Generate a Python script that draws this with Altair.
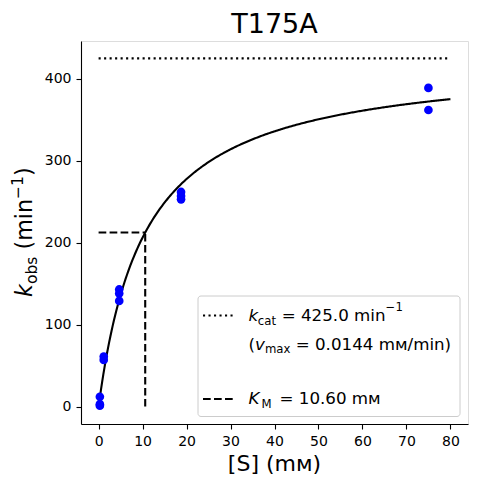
import altair as alt
import numpy as np
import pandas as pd

# ---------------- data ----------------
chart_title = "T175A"
S_obs = [0.29, 0.29, 0.29, 1.17, 1.17, 4.69, 4.69, 4.69, 18.75, 18.75, 18.75, 75.0, 75.0]
k_obs = [1, 3, 12, 57, 61, 129, 138, 143, 253, 257, 262, 362, 389]
kcat = 425.0
KM = 10.60
S_end = 80
x_ticks = [0, 10, 20, 30, 40, 50, 60, 70, 80]
y_ticks = [0, 100, 200, 300, 400]

# fitted Michaelis-Menten curve from the reported parameters
S_fit = np.linspace(0, S_end, 300)
k_fit = kcat * S_fit / (KM + S_fit)

pts = pd.DataFrame({"S": S_obs, "k": k_obs})
fit = pd.DataFrame({"S": S_fit, "k": k_fit})
kcat_line = pd.DataFrame({"S": [0, S_end], "k": [kcat, kcat]})
km_h = pd.DataFrame({"S": [0, KM], "k": [kcat / 2, kcat / 2]})
km_v = pd.DataFrame({"S": [KM, KM], "k": [0, kcat / 2]})
dummy = pd.DataFrame({"d": [0]})

# ---------------- layout ----------------
W, H = 387, 383
OX, OY = 81, 41  # plot origin in page pixels
FONT = "DejaVu Sans"

xs = alt.Scale(domain=[-4, 84], nice=False, zero=False)
ys = alt.Scale(domain=[-21.25, 446.25], nice=False, zero=False)

axis_common = dict(
    grid=False, title=None, labelFont=FONT, labelFontSize=14, labelColor="black",
    tickColor="black", tickSize=5, tickWidth=1.1, domainColor="black", domainWidth=1.1,
)
xenc = alt.X("S:Q", scale=xs, axis=alt.Axis(values=x_ticks, labelPadding=5, **axis_common))
yenc = alt.Y("k:Q", scale=ys, axis=alt.Axis(values=y_ticks, labelPadding=5, **axis_common))


def P(x, y):
    return dict(x=alt.value(x - OX), y=alt.value(y - OY))


def txt(s, x, y, size, italic=False, angle=0, align="left"):
    kw = dict(text=s, font=FONT, fontSize=size, align=align,
              baseline="alphabetic", color="black")
    if italic:
        kw["fontStyle"] = "italic"
    if angle:
        kw["angle"] = angle
    return alt.Chart(dummy).mark_text(**kw).encode(**P(x, y))


curve = alt.Chart(fit).mark_line(color="black", strokeWidth=2.1).encode(x=xenc, y=yenc)
kc = alt.Chart(kcat_line).mark_line(color="black", strokeWidth=2.1, strokeDash=[2.1, 3.4]).encode(x=xenc, y=yenc)
kh = alt.Chart(km_h).mark_line(color="black", strokeWidth=2.1, strokeDash=[7.7, 3.3]).encode(x=xenc, y=yenc)
kv = alt.Chart(km_v).mark_line(color="black", strokeWidth=2.1, strokeDash=[7.7, 3.3]).encode(x=xenc, y=yenc)
dots = alt.Chart(pts).mark_circle(size=75, color="#0000ff", opacity=1).encode(x=xenc, y=yenc)

# legend box
box = alt.Chart(dummy).mark_rect(
    fill="white", fillOpacity=0.8, stroke="#cccccc", strokeWidth=1, cornerRadius=3
).encode(x=alt.value(198 - OX), x2=alt.value(460 - OX), y=alt.value(296 - OY), y2=alt.value(416.5 - OY))
h1 = alt.Chart(dummy).mark_rule(color="black", strokeWidth=2.1, strokeDash=[2.1, 3.4]).encode(
    x=alt.value(203 - OX), x2=alt.value(236 - OX), y=alt.value(315.5 - OY))
h2 = alt.Chart(dummy).mark_rule(color="black", strokeWidth=2.1, strokeDash=[7.7, 3.3]).encode(
    x=alt.value(203 - OX), x2=alt.value(236 - OX), y=alt.value(399 - OY))

FS = 16.7
SS = 11.7
legend_txt = [
    txt("k", 248.5, 321, FS, italic=True),
    txt("cat", 257.8, 324.5, SS),
    txt("= 425.0 min", 281.7, 321, FS),
    txt("\u22121", 385.6, 310.5, SS),
    txt("(", 248.5, 349.5, FS),
    txt("v", 255.0, 349.5, FS, italic=True),
    txt("max", 264.9, 353.0, SS),
    txt("= 0.0144 m\u1d0d/min)", 295.7, 349.5, FS),
    txt("K", 248.5, 404, FS, italic=True),
    txt("M", 261.5, 407.5, SS),
    txt("= 10.60 m\u1d0d", 279.5, 404, FS),
]

# title and axis titles
title_t = txt(chart_title, 274.5, 33.2, 27, align="center")
xtitle = txt("[S] (m\u1d0d)", 274.5, 470.7, 22, align="center")
Y0 = 297.0
BX = 32.0
ytitle = [
    txt("k", BX, Y0, 22.2, italic=True, angle=270),
    txt("obs", BX + 5, Y0 - 12.9, 15.5, angle=270),
    txt("(min", BX, Y0 - 47.5, 22.2, angle=270),
    txt("\u22121", BX - 9.5, Y0 - 98.0, 15.5, angle=270),
    txt(")", BX, Y0 - 120.9, 22.2, angle=270),
]

chart = alt.layer(
    curve, kc, kh, kv, dots, box, h1, h2, *legend_txt, title_t, xtitle, *ytitle
).properties(
    width=W, height=H,
    autosize=alt.AutoSizeParams(type="none"),
    padding={"left": OX - 8, "top": OY - 8, "right": 1, "bottom": 52},
).configure_view(stroke="black", strokeWidth=1.1).configure(background="white")

chart.save("out.html", embed_options={"renderer": "svg", "actions": False})
